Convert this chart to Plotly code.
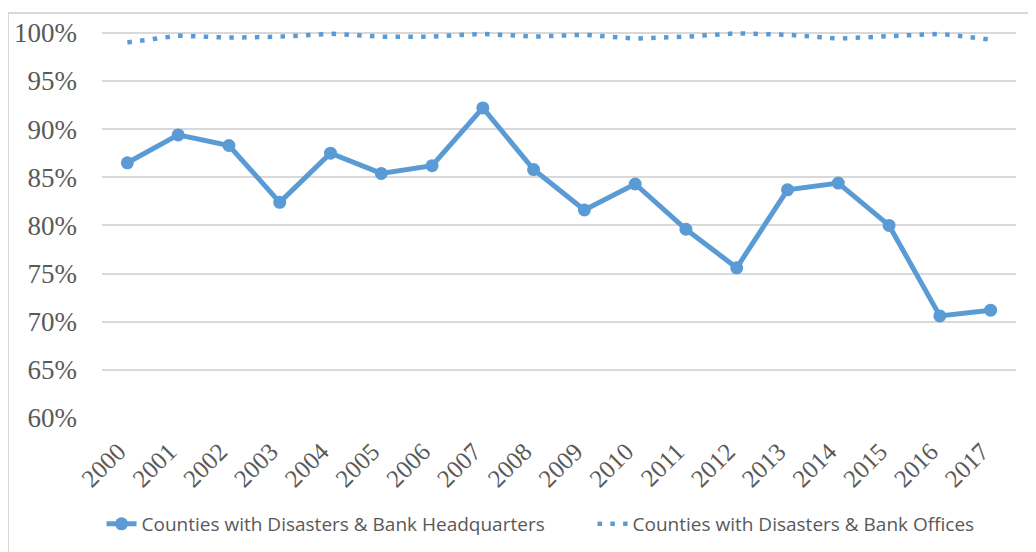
import plotly.graph_objects as go

years = [str(y) for y in range(2000, 2018)]
hq_values = [0.865, 0.894, 0.883, 0.824, 0.875, 0.854, 0.862, 0.922, 0.858,
             0.816, 0.843, 0.796, 0.756, 0.837, 0.844, 0.800, 0.706, 0.712]
office_values = [0.990, 0.997, 0.995, 0.996, 0.999, 0.996, 0.996, 0.999, 0.996,
                 0.998, 0.994, 0.996, 0.9995, 0.998, 0.994, 0.997, 0.999, 0.993]
y_ticks = [0.60, 0.65, 0.70, 0.75, 0.80, 0.85, 0.90, 0.95, 1.00]
y_tick_labels = ["60%", "65%", "70%", "75%", "80%", "85%", "90%", "95%", "100%"]

blue = "#5B9BD5"
grey_text = "#595959"
grid = "#D9D9D9"

fig = go.Figure()
fig.add_trace(go.Scatter(
    x=years, y=hq_values, mode="lines+markers",
    name="Counties with Disasters & Bank Headquarters",
    line=dict(color=blue, width=5),
    marker=dict(color=blue, size=13),
))
fig.add_trace(go.Scatter(
    x=years, y=office_values, mode="lines",
    name="Counties with Disasters & Bank Offices",
    line=dict(color=blue, width=4.5, dash="4.5px,8.3px"),
))

# page body adds an 8px offset; work in figure coordinates = screen - 8
OFF = 8
W, H = 1036 - OFF, 552 - OFF
ml = 102 - OFF
mr = W - (1016 - OFF)
mt = 28 - OFF
mb = H - (418 - OFF)
pw = W - ml - mr
ph = H - mt - mb

def px_x(x):
    return (x - OFF - ml) / pw

def px_y(y):
    return (H - mb - (y - OFF)) / ph

fig.update_layout(
    width=W, height=H,
    margin=dict(l=ml, r=mr, t=mt, b=mb, autoexpand=False),
    paper_bgcolor="white", plot_bgcolor="white",
    showlegend=True,
    legend=dict(
        orientation="h", x=-0.0005, xanchor="left", y=px_y(524), yanchor="middle",
        font=dict(family="Open Sans", size=19, color=grey_text),
        itemwidth=30, entrywidth=446,
    ),
    xaxis=dict(
        type="category", tickangle=-45, showgrid=False, zeroline=False, showline=False,
        ticks="", ticklabelstandoff=13, ticklabelshift=-9, automargin=False,
        tickfont=dict(family="Liberation Serif", size=25, color=grey_text),
        range=[-0.5, len(years) - 0.5],
    ),
    yaxis=dict(
        range=[0.6, 1.005], tickvals=y_ticks, ticktext=y_tick_labels,
        showgrid=True, gridcolor=grid, gridwidth=2, zeroline=False, showline=False,
        ticks="", ticklabelstandoff=24, automargin=False,
        tickfont=dict(family="Liberation Serif", size=27, color=grey_text),
    ),
    shapes=[
        dict(type="line", xref="paper", yref="paper", x0=px_x(7), x1=px_x(1036),
             y0=px_y(13), y1=px_y(13), line=dict(color=grid, width=2)),
        dict(type="line", xref="paper", yref="paper", x0=px_x(8), x1=px_x(8),
             y0=px_y(13), y1=px_y(560), line=dict(color=grid, width=2)),
    ],
)

fig.write_html("out.html")
